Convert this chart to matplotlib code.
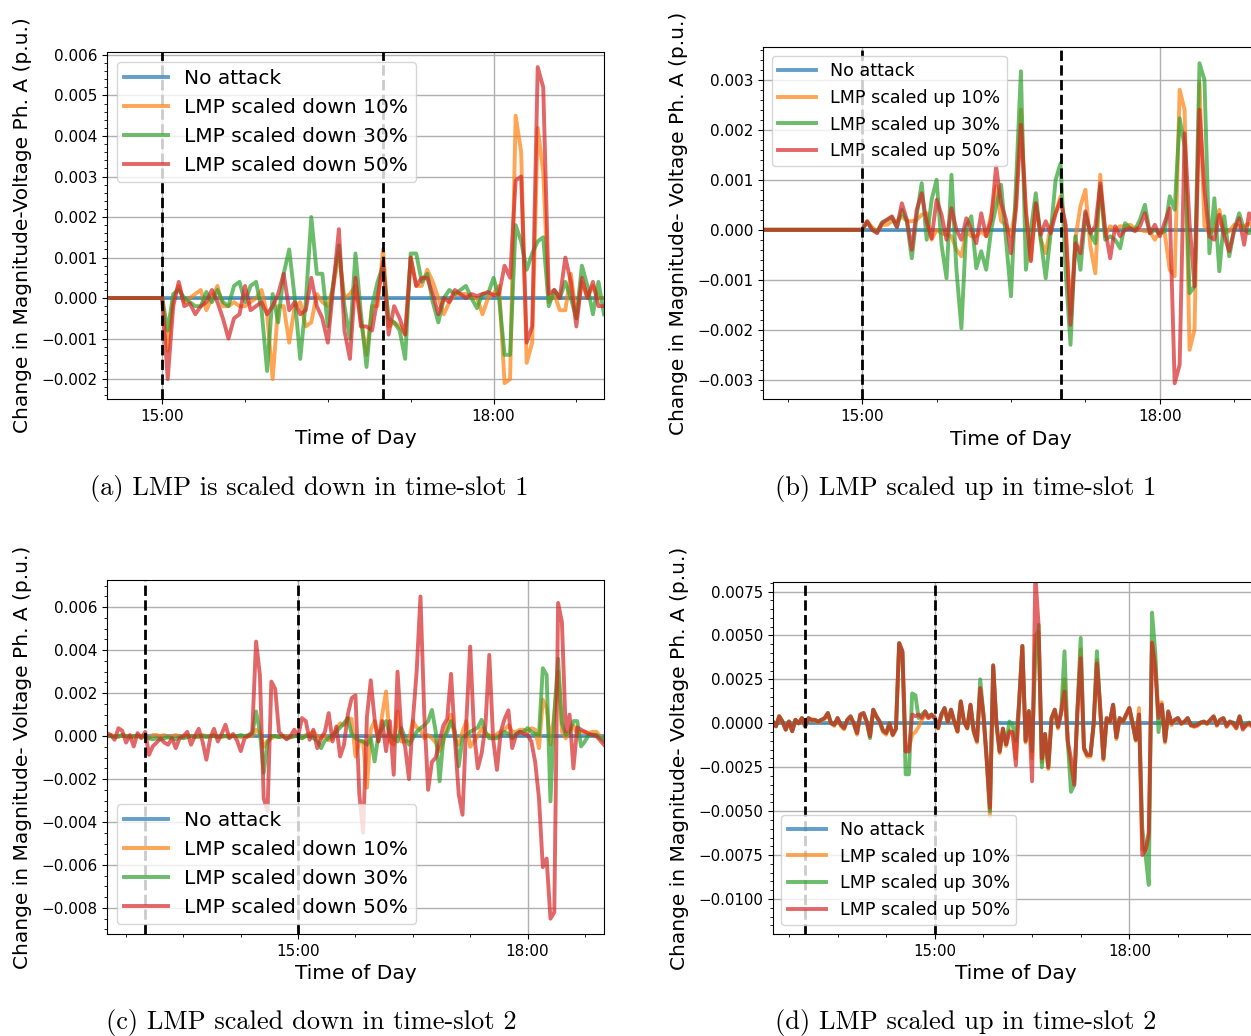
import numpy as np
import matplotlib.pyplot as plt
from matplotlib.ticker import MultipleLocator, AutoMinorLocator, FuncFormatter

# all voltage values below are in units of 1e-4 p.u., sampled every 3 minutes
SCALE = 1e-4
STEP_H = 3 / 60

labels_down = ['No attack', 'LMP scaled down 10%', 'LMP scaled down 30%', 'LMP scaled down 50%']
labels_up = ['No attack', 'LMP scaled up 10%', 'LMP scaled up 30%', 'LMP scaled up 50%']

# (a) time-slot 1, scaled down: 14:30 -> 19:00 (flat until 15:00)
a_start = 14.5
a_flat = [0] * 10
a_down10 = a_flat + [
  0, -13, 0, 3, -1, 0, 1, 2, -3, 0,
  3, -2, -2, -1, -2, -2, -1, 0, 2, -4,
  -20, -2, -2, -11, -2, -1, -7, -6, 1, -1,
  -2, 3, 11, 0, 1, 3, -6, -14, -2, -2,
  12, -7, -6, -7, -9, 10, 3, 3, 7, 4,
  0, -4, -1, 1, 1, 1, 0, 0, -4, 0,
  1, 3, -21, -20, 45, 36, -16, -11, 42, 31,
  -1, 1, -3, -3, 6, -5, 4, 0, 3, 0, 0]
a_down30 = a_flat + [
  0, -8, 1, 2, 0, -1, -2, -2, 1.5, -1,
  2, -1, -2, 3, 4, -1, 3, 4, -3, -18,
  1, -6, 6, 12, 0, -15, -1, 20, 6, 6,
  -7, 4, 13, -2, -10, 11, -4, -17, -2, 4,
  8, -5, -6, -8, -15, 11, 11, 4, 6, -1,
  -6, 0, 2, 1, 2, 3, 0, -2.5, 1, 1,
  5, 0, -14, -14, 18, 14, 7, 11, 14, 15,
  -2, 2, 0, 4, 0, -5, 8, 3, -4, 4, -4]
a_down50 = a_flat + [
  0, -20, -2, 4, -2, -1.3, -4, -2, -1, 2,
  -1, -5, -10, -5, -4, 3, -3, -2, -1, -4,
  -2, 1, 6, -3, -1, -4, -3, 5, -2, -5,
  -11, 3, 17, -8, -15, 5, -7, -7, -8, 0,
  9, -9, -2, -5, -9, 10, 3, 5, 5, 1,
  -4, 0, -1, 2, 1, 0, 1, 0.5, 1, 1.5,
  0.7, 1, 8, 5, 29, 30, -11, -7, 57, 52,
  1, 2, 0, 10, 4, -7, 5, 0, 4, -2, -2]

# (b) time-slot 1, scaled up: 14:00 -> 19:00 (flat until 15:00)
b_start = 14.0
b_flat = [0] * 20
b_up10 = b_flat + [
  0, 1.7, 0.5, -0.3, 1, 1, 1.7, 1.7, 2.7, 1.7,
  1.7, 2, 3, 3.3, -2, 0, -0.7, -1, -1.3, -4,
  -5.3, -0.3, -1.3, -1.3, -0.3, -1.3, 3, 8.7, 1.7, 1,
  -1.3, 5, 24, 3.3, -6, 5.3, -2, -4.7, 0.7, 3.3,
  6.7, 0.7, -17, -1.7, 4.7, 8, -3.3, -8.7, 11, -1.3,
  0.7, 0, 0.7, 0.7, 1, 0.3, 0, -0.3, -0.3, -2,
  -0.3, -0.7, -8, -9.3, 28, 24, -24, -20, 29.3, 0.7,
  -0.7, 0, 4, -0.7, -0.3, 1, 0.7, 0.7, 1.3, 0.5, 0]
b_up30 = b_flat + [
  0, 1.5, 0, -0.5, 1.5, 2, 2.5, 0.5, 4, 1.7,
  -5.7, 3, 9.3, -2, 6, 10, -3, -9.7, 11, -8,
  -19.7, 0.7, 2.7, -7.7, -4.3, -8, 0, 4.7, 9, -2,
  -13.3, 9, 31.7, -8, 0, 7.3, -2, -9.7, -0.7, 10,
  13.3, -8, -23, -1.3, -8, 3.3, -0.7, -2.7, 8.7, -2,
  -1.3, -2, -3.7, 1.3, 0.3, 0, 2, 5, -0.7, 0,
  -0.7, -0.3, 6.7, 4, 22.3, 16.7, -12.7, -11.3, 33.3, 30,
  -4.7, 6.3, -8.3, 2.7, -5.3, 0, 3.3, 0, -0.7, 1, 0]
b_up50 = b_flat + [
  0, 1.7, 0, -0.7, 1.3, 2, 2.7, 0.5, 5.3, 2,
  -4, 4, 7.3, 1.5, -1.7, 6, 3, -2, 4.3, 0,
  -2, 2.3, 0, -2.7, 3.3, -1.3, 2, 12.7, 5.3, 2,
  -4.7, 4, 21, 4, -6.3, 5.3, -1, 1.7, -0.7, 3.3,
  6, 1, -19, -2.7, -4.7, 3.7, -0.7, 0.7, 9.3, 0,
  -5.7, 0.7, -1.3, 0, 0.3, -0.3, 0.7, 3.3, -0.7, 1,
  -1.3, 1.5, 4.3, -30.7, -27, 19.3, 1.3, -11.3, 24, 8,
  -1.3, -2, 3, -1.3, -4.3, 0, 2.3, -3, 3.3, 1, 0]

# (c) time-slot 2, scaled down: 12:30 -> 19:00
c_start = 12.5
c_down10 = [
  0, 0.5, 0, -0.5, 0.5, 0, 0, -0.5, 0.5, 0,
  0, -1, 0.5, 0.5, 0, 0.5, -0.5, 0, 0.5, 0,
  -0.5, 0.5, 0, 0, -0.5, 0.5, 0, 0, 0.5, 0,
  -0.5, 0, 0.5, 0, 0, -0.5, 0, 0, 0, 3,
  1, -5, -2, -1, 0, -0.5, 0, 0, -0.5, 0,
  0, -1, 0.5, 1, 2, 0, -1, 0.5, -2, -1,
  3, 6, 5, 8.4, 8, -9.5, -2.5, -2.5, -24, 3,
  7, -2.5, 10, 20.8, -2.5, -4, 11.5, -2.5, -2.5, -2,
  7, 4, 3, -1, 0.5, -1, -3, -7, -2.5, 5,
  10, -1, -4, 2, 7, -5, -2.5, 0, 3.7, 0.5,
  0.5, -1, 1, 2, 3, 5, 2, 2, 3, 3,
  2, 3.7, 3, -5.6, 17, 13, -4, 10, 30, 2,
  -1, 2, 5, 1, 2, 2, 1.5, 2, 2, 0, -2.5]
c_down30 = [
  0, 0, -0.5, 0, 0.5, 0, -0.5, 0, 0, -0.5,
  0, -1, -1.5, -1, -1.5, -1, -0.5, -1, -1.5, -0.5,
  -1, -0.5, 0, -0.5, 0, 0, -0.5, 0, 0, -0.5,
  0, 0, -0.5, 0, 0, 0.5, 0, 0.5, 1, 11.5,
  2, -17, -3, 0, 0, -0.5, 0, -1, -0.5, 0,
  0, -1, 0, 0, -1, -2, -5.6, -2, -1, 0.5,
  2, 4, 6, 8.4, 1, -1, -2, -2.5, -4, -1,
  -11.8, 0.6, 3.7, 7, 0.6, -1, -2.5, 3.7, -1, -4,
  -1, 2, 3.7, 5, 7, 12.2, 2, -21, -1, 2,
  7, 2, -14, -1, 0.6, 2, 3, 4, 7.6, 2,
  -1, -1, -1, 0.6, 2, 1, -1, 1, 2, 2,
  3.7, 2, 1, 0.6, 31.6, 28.5, -30.4, 10, 36, 6,
  0.6, 2, 7, 7, -4.8, -2.5, 0.6, 0.6, 0.6, -1, -1.7]
c_down50 = [
  1.4, 0.5, -1.7, 3.7, 2.5, -3, 0.5, -4.8, 1.4, -1,
  2, -8.7, -4.7, -3, -1, -3, -4, -1, -5.6, -1,
  0, 2, -4, 0, 3.4, -2.5, -11, -1, 3.4, -2.5,
  1, 5.3, -1, 1, -2, -7, -1, 0, 2, 44,
  28.5, -29, -35, 25.4, 22, 2, 0, -1.5, 0, 3,
  0, 8.4, 7, -1.7, 3, -5.6, -1, 2, 10.7, -2.5,
  4.5, -9.5, -4, 10, 17.7, 19, -27, -45, 9, 26,
  8, -2.5, 7, -7, 7, -18, 30, 2, -5, -20,
  7, 30, 65, 10, -25, -12, -10, -2.5, 5, 8,
  29, -1, -27, -36.6, 7, 41.7, 2, -15, -8, 5,
  37.8, -1, -15.7, 2, 8, 12, -5.6, 0.6, 2, 1,
  0.6, -2.5, -12, -29, -61, -57, -85, -82, 62, 53,
  2, 10, -15, 4, 3, 2, 1, 0.6, 0, -2, -4]

# (d) time-slot 2, scaled up: 12:30 -> 20:00
d_start = 12.5
d_up10 = [
  1, -1.7, 4, 1, -3.6, 1, -4.5, 2, 0, 3,
  -1.7, 2.5, 1.5, 1.5, 0.5, 1.5, 2.5, 5, 0, -1.5,
  2.5, -1.5, -3.5, 1.5, 3, -0.5, -6.5, 4, 5, 0.5,
  -7.4, 7, 3.5, 0.5, -5, -6.5, -0.5, -7, -3.5, 45,
  40, -16, -14, -6.5, -5, -2, 2, 5, 3, 4,
  3, -3, 4, 8, 0.5, 7, 0.5, -5, 12, 0.5,
  -3, 10, -5, -11, 20, 4, -22, -53, 32, -1,
  -17, -4, -13, -4, -6, -20, 11, 44, -11, 6,
  -20, 50, 52, -22, -7, -26, 2, 7, -3, 6,
  25, -11, -25, -33, 7, 42, -15, -19, -19, -1,
  36, 8, -21, 2, 0.5, 10, -9, 2, 0.5, 4,
  8.7, 0, -10, 8.7, -72, -72, -65, 45, 35, 5,
  12, -11, 5.5, -1, 1, 2.5, -0.5, 0.5, 2.5, -1.5,
  -2, -1.5, 0, 0.5, -0.5, 1.5, 3.5, -1.5, 1.5, 2.5,
  -2, 0.5, -0.5, -3, 3.5, -3, -1.5, -0.5, -2, -1, 0]
d_up30 = [
  1, -1.7, 4, 1, -3.6, 1, -4.5, 2, 0, 3,
  -1.7, 3, 2, 2, 1, 2, 3, 5.9, 0, -0.8,
  3, -0.8, -2.7, 2, 4, 0, -5.5, 5, 5.9, 1,
  -8.5, 7.8, 4, 1, -4, -5.5, 0, -6.5, -3, 45.7,
  41, -29, -29, 17, 16, 3, 5, 6.8, 4, 5,
  3, -2.7, 5, 8.7, 1, 7.8, 1, -4.5, 12.5, 1,
  -2.7, 10.6, -4.5, -10, 25, 5, -20, -50, 33, 0,
  -16, -3, -12, 1, -1, -10, 12, 44, -10, 7,
  -16, 40, 56, -25, -6, -25, 3, 7.8, -2, 6.8,
  41, -10, -39, -35, 8, 48.6, -14, -18, -18, 0,
  41, 9, -20, 3, 1, 10.6, -8, 3, 1, 5,
  8.7, 0, -9.3, 5, -60, -75, -92, 63, 40, -5,
  10.6, -10, 6.8, 0, 2, 3, 0, 1, 3, -1,
  -1, -0.5, 0.5, 1, 0, 2, 4, -0.5, 2, 3,
  -1, 1, 0.5, -2, 4, -2.5, -0.5, 0.5, -1, -0.5, 0]
d_up50 = [
  1, -1.7, 4, 1, -3.6, 1, -4.5, 2, 0, 3,
  -1.7, 3, 2, 2, 1, 2, 3, 5.9, 0, -0.8,
  3, -0.8, -2.7, 2, 4, 0, -5.5, 5, 5.9, 1,
  -7.4, 7.8, 4, 1, -4, -5.5, 0, -6.5, -3, 45.7,
  41, -16, -16, 5, 4, 5, 3, 6.8, 3, 5,
  3, -2.7, 5, 8.7, 1, 7.8, 1, -4.5, 12.5, 1,
  -2.7, 10.6, -4.5, -10, 20, 5, -20, -48, 33, 0,
  -16, -3, -12, -5, -5, -24, 12, 44, -10, 7,
  -33, 85, 56, -20, -6, -25, 3, 7.8, -2, 6.8,
  18, -10, -20, -35, 8, 37, -14, -18, -18, 0,
  34, 9, -20, 3, 1, 10.6, -8, 3, 1, 5,
  8.7, 0, -9.3, 5, -75, -72, -62, 46, 30, 3,
  10.6, -10, 6.8, 0, 2, 3, 0, 1, 3, -1,
  -1.7, -1, 0.5, 1, 0, 2, 4, -1, 2, 3,
  -1.7, 1, 0, -2.7, 4, -3.6, -1, 0, -2, -1, 0]

colors = ['#1f77b4', '#ff7f0e', '#2ca02c', '#d62728']


def hhmm(h, pos):
  hours = int(h + 1e-9)
  mins = int(round((h - hours) * 60))
  return f'{hours:02d}:{mins:02d}'


def draw_panel(ax, start, series, labels, slot, xlim, ylim, ystep,
               leg_loc, leg_size, ylabel, tick_size=11):
  t = start + STEP_H * np.arange(len(series[0]))
  ax.plot(t, np.zeros_like(t), color=colors[0], alpha=0.7, lw=2.8, label=labels[0])
  for vals, c, lab in zip(series, colors[1:], labels[1:]):
    ax.plot(t, np.array(vals) * SCALE, color=c, alpha=0.7, lw=2.8, label=lab)
  for x in slot:
    ax.axvline(x, color='black', ls='--', lw=2)

  ax.set_xlim(*xlim)
  ax.set_ylim(*ylim)
  ax.xaxis.set_major_locator(MultipleLocator(3))
  ax.xaxis.set_minor_locator(AutoMinorLocator(4))
  ax.xaxis.set_major_formatter(FuncFormatter(hhmm))
  ax.yaxis.set_major_locator(MultipleLocator(ystep))
  ax.yaxis.set_minor_locator(AutoMinorLocator())
  ax.tick_params(labelsize=tick_size)
  ax.grid(True, which='major', color='#b0b0b0', lw=1.0)

  ax.set_xlabel('Time of Day', fontsize=14.5)
  ax.set_ylabel(ylabel, fontsize=14.5, labelpad=6.5)
  ax.legend(loc=leg_loc, fontsize=leg_size, labelspacing=0.5,
            borderpad=0.35, handlelength=2.2)


fig = plt.figure(figsize=(12.51, 10.36), dpi=100)

ax_a = fig.add_axes([0.0855, 0.6149, 0.3973, 0.3352])
draw_panel(ax_a, a_start, [a_down10, a_down30, a_down50], labels_down, [15, 17],
           (14.5, 19), (-0.00249, 0.00608), 0.001, 'upper left', 14.5,
           'Change in Magnitude-Voltage Ph. A (p.u.)')

ax_b = fig.add_axes([0.6099, 0.6146, 0.3965, 0.3398])
draw_panel(ax_b, b_start, [b_up10, b_up30, b_up50], labels_up, [15, 17],
           (14, 19), (-0.00339, 0.00365), 0.001, 'upper left', 12.6,
           'Change in Magnitude- Voltage Ph. A (p.u.)')

ax_c = fig.add_axes([0.0855, 0.0985, 0.3973, 0.3417])
draw_panel(ax_c, c_start, [c_down10, c_down30, c_down50], labels_down, [13, 15],
           (12.5, 19), (-0.00921, 0.00727), 0.002, 'lower left', 14.5,
           'Change in Magnitude- Voltage Ph. A (p.u.)')

ax_d = fig.add_axes([0.6177, 0.0985, 0.3887, 0.3395])
draw_panel(ax_d, d_start, [d_up10, d_up30, d_up50], labels_up, [13, 15],
           (12.5, 20), (-0.01199, 0.00803), 0.0025, 'lower left', 12.6,
           'Change in Magnitude- Voltage Ph. A (p.u.)', tick_size=10.8)

# subfigure captions
cap = dict(fontsize=19, family='cmr10', ha='center', va='baseline')
fig.text(309 / 1251, 1 - 495 / 1036, '(a) LMP is scaled down in time-slot 1', **cap)
fig.text(966 / 1251, 1 - 495 / 1036, '(b) LMP scaled up in time-slot 1', **cap)
fig.text(311 / 1251, 1 - 1029 / 1036, '(c) LMP scaled down in time-slot 2', **cap)
fig.text(966 / 1251, 1 - 1029 / 1036, '(d) LMP scaled up in time-slot 2', **cap)

fig.savefig('out.png', dpi=100)
